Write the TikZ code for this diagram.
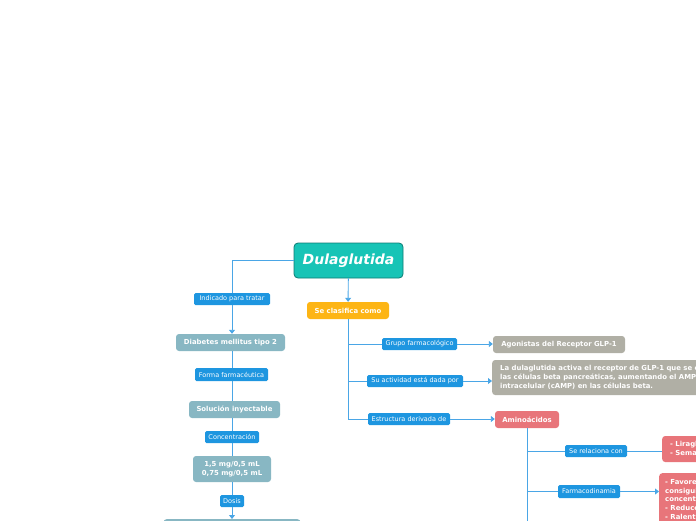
\documentclass[tikz,border=0pt]{standalone}
\usepackage{fontspec}
\setmainfont{DejaVu Sans}
\usetikzlibrary{arrows.meta}
\definecolor{azul}{HTML}{1E96E0}
\definecolor{linea}{HTML}{4AA6E6}
\definecolor{grisazul}{HTML}{88B7C3}
\definecolor{gris}{HTML}{B0AFA5}
\definecolor{salmon}{HTML}{E8757A}
\definecolor{ambar}{HTML}{FDB515}
\definecolor{turq}{HTML}{17C4B6}
\definecolor{turqborde}{HTML}{0D7B73}
\tikzset{
  conector/.style={draw=linea, line width=0.9pt},
  flecha/.style={conector, -{Triangle[width=6pt,length=4pt]}},
  etiqueta/.style={fill=azul, text=white, rounded corners=1.5pt, inner sep=0pt,
    minimum height=12pt, font=\fontsize{6.5}{7.5}\selectfont},
  caja/.style={text=white, rounded corners=3pt, inner sep=0pt, minimum height=17pt,
    font=\bfseries\fontsize{6.9}{8.8}\selectfont},
}
\begin{document}
\begin{tikzpicture}[x=1pt, y=-1pt]
    \useasboundingbox (0,0) rectangle (696,520);
    \clip (0,0) rectangle (696,520);

    % Nodo central
    \node[fill=turq, draw=turqborde, line width=0.8pt, rounded corners=4pt, text=white,
      minimum width=109pt, minimum height=35pt, font=\bfseries\itshape\fontsize{14}{16}\selectfont]
      (dula) at (348.5,260.5) {Dulaglutida};

    % Rama izquierda
    \node[etiqueta, minimum width=76pt] (indicado) at (232,299) {Indicado para tratar};
    \node[caja, fill=grisazul, minimum width=109pt] (diabetes) at (230.5,342.5) {Diabetes mellitus tipo 2};
    \node[etiqueta, minimum width=73pt, minimum height=13pt] (forma) at (231.5,374.5) {Forma farmacéutica};
    \node[caja, fill=grisazul, minimum width=91pt] (solucion) at (234.5,409.5) {Solución inyectable};
    \node[etiqueta, minimum width=54pt] (concentracion) at (232,437) {Concentración};
    \node[caja, fill=grisazul, minimum width=78pt, minimum height=26pt, align=center]
      (mg) at (232,469) {1,5 mg/0,5 mL\\0,75 mg/0,5 mL};
    \node[etiqueta, minimum width=24pt] (dosis) at (232,501) {Dosis};
    \node[caja, fill=grisazul, minimum width=137pt, minimum height=30pt, anchor=north]
      (siguiente) at (232,519) {};

    \draw[conector] (dula.west) -| (indicado.north);
    \draw[flecha] (indicado.south) -- (indicado.south |- diabetes.north);
    \draw[conector] (indicado.south |- diabetes.south) -- (indicado.south |- forma.north);
    \draw[conector] (indicado.south |- forma.south) -- (indicado.south |- solucion.north);
    \draw[conector] (indicado.south |- solucion.south) -- (concentracion);
    \draw[conector] (concentracion) -- (mg);
    \draw[conector] (mg) -- (dosis);
    \draw[flecha] (dosis) -- (siguiente);

    % Rama derecha
    \node[caja, fill=ambar, minimum width=82pt] (clasifica) at (348,310.5) {Se clasifica como};
    \draw[flecha] (dula) -- (clasifica);

    \node[etiqueta, minimum width=75pt] (grupo) at (419.5,344) {Grupo farmacológico};
    \node[caja, fill=gris, minimum width=132pt] (agonistas) at (559,344.5) {Agonistas del Receptor GLP-1};
    \node[etiqueta, minimum width=96pt] (actividad) at (415,381) {Su actividad está dada por};
    \node[caja, fill=gris, anchor=west, minimum height=35pt, inner xsep=8pt, align=left,
      font=\bfseries\fontsize{6.9}{9}\selectfont]
      (mecanismo) at (492,377.5) {La dulaglutida activa el receptor de GLP-1 que se encuentra en\\las células beta pancreáticas, aumentando el AMP cíclico\\intracelular (cAMP) en las células beta.};
    \node[etiqueta, minimum width=82pt] (estructura) at (409,419) {Estructura derivada de};
    \node[caja, fill=salmon, minimum width=64pt] (aminoacidos) at (527,419.5) {Aminoácidos};

    \draw[conector] (clasifica.south) |- (grupo.west);
    \draw[conector] (clasifica.south) |- (actividad.west);
    \draw[conector] (clasifica.south) |- (estructura.west);
    \draw[flecha] (grupo.east) -- (agonistas.west |- grupo.east);
    \draw[flecha] (actividad.east) -- (mecanismo.west |- actividad.east);
    \draw[flecha] (estructura.east) -- (aminoacidos.west |- estructura.east);

    % Aminoácidos
    \node[etiqueta, minimum width=62pt] (relaciona) at (596,451) {Se relaciona con};
    \node[caja, fill=salmon, anchor=west, minimum height=26pt, inner xsep=8pt, align=left]
      (analogos) at (662,449) {- Liraglutida\\- Semaglutida};
    \node[etiqueta, minimum width=62pt, minimum height=13pt] (farmaco) at (589,491.5) {Farmacodinamia};
    \node[caja, fill=salmon, anchor=north west, inner sep=6pt, align=left,
      font=\bfseries\fontsize{6.9}{8.6}\selectfont]
      (efectos) at (659,473) {- Favorece la secreción de insulina,\\consiguiendo disminuir la\\concentración de glucosa.\\- Reduce la secreción de glucagón.\\- Ralentiza el vaciamiento gástrico.};
    \coordinate (amincont) at (527,540);

    \draw[conector] (aminoacidos.south) -- (amincont);
    \draw[conector] (aminoacidos.south) |- (relaciona.west);
    \draw[conector] (aminoacidos.south) |- (farmaco.west);
    \draw[conector] (relaciona.east) -- (analogos.west |- relaciona.east);
    \draw[flecha] (farmaco.east) -- (efectos.west |- farmaco.east);
\end{tikzpicture}
\end{document}
